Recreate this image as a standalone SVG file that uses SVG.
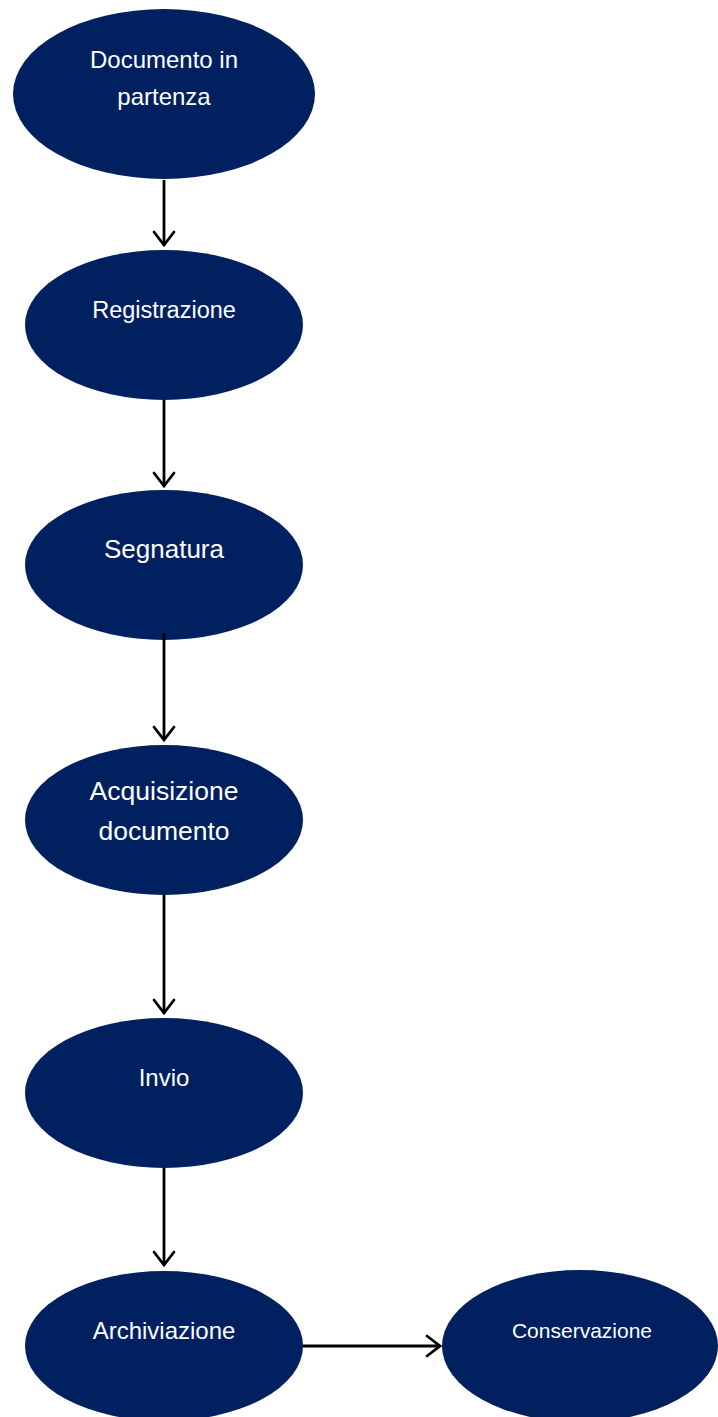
<svg xmlns="http://www.w3.org/2000/svg" width="718" height="1417" viewBox="0 0 718 1417">
<style>
.n{fill:#002060}
.t{fill:#ffffff;font-family:"Liberation Sans",Arial,sans-serif;text-anchor:middle}
.c{stroke:#000000;stroke-width:2.8;fill:none}
.h{stroke:#000000;stroke-width:2.8;fill:none;stroke-linecap:round;stroke-linejoin:miter}
</style>
<rect width="718" height="1417" fill="#ffffff"/>
<g id="n1"><ellipse class="n" cx="164" cy="94" rx="151" ry="85"/><text class="t" x="164" y="68" font-size="24">Documento in</text><text class="t" x="164" y="105" font-size="24">partenza</text></g>
<g id="n2"><ellipse class="n" cx="164" cy="325" rx="139" ry="75"/><text class="t" x="164" y="318" font-size="23.5">Registrazione</text></g>
<g id="n3"><ellipse class="n" cx="164" cy="565" rx="139" ry="75"/><text class="t" x="164" y="558" font-size="26">Segnatura</text></g>
<g id="n4"><ellipse class="n" cx="164" cy="820" rx="139" ry="75"/><text class="t" x="164" y="800" font-size="26.5">Acquisizione</text><text class="t" x="164" y="840" font-size="26.5">documento</text></g>
<g id="n5"><ellipse class="n" cx="164" cy="1093" rx="139" ry="75"/><text class="t" x="164" y="1086" font-size="24">Invio</text></g>
<g id="n6"><ellipse class="n" cx="164" cy="1346" rx="139" ry="75"/><text class="t" x="164" y="1339" font-size="24">Archiviazione</text></g>
<g id="n7"><ellipse class="n" cx="580" cy="1346" rx="138" ry="76"/><text class="t" x="582" y="1338" font-size="21">Conservazione</text></g>
<g id="connectors">
<line class="c" x1="164" y1="180" x2="164" y2="245"/><polyline class="h" points="154,232 164,245 174,232"/>
<line class="c" x1="164" y1="400" x2="164" y2="486"/><polyline class="h" points="154,473 164,486 174,473"/>
<line class="c" x1="164" y1="633" x2="164" y2="740"/><polyline class="h" points="154,727 164,740 174,727"/>
<line class="c" x1="164" y1="895" x2="164" y2="1013"/><polyline class="h" points="154,1000 164,1013 174,1000"/>
<line class="c" x1="164" y1="1168" x2="164" y2="1265"/><polyline class="h" points="154,1252 164,1265 174,1252"/>
<line class="c" x1="303" y1="1346" x2="440" y2="1346"/><polyline class="h" points="427,1336 440,1346 427,1356"/>
</g>
</svg>
